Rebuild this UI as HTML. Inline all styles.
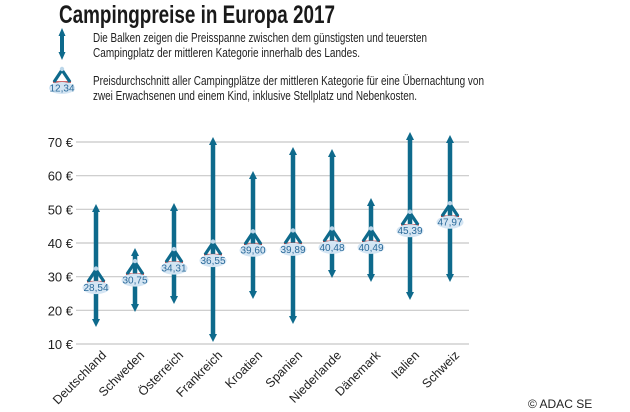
<!DOCTYPE html>
<html><head><meta charset="utf-8"><style>
body{margin:0;background:#fff;}
svg{display:block;font-family:"Liberation Sans",sans-serif;}
</style></head><body>
<svg width="630" height="412" viewBox="0 0 630 412" xmlns="http://www.w3.org/2000/svg">
<defs>
<g id="tent">
<line x1="-9" y1="0" x2="9" y2="0" stroke="#c0393b" stroke-width="1.5"/>
<path d="M-8,0 L0,-12 L8,0" fill="none" stroke="#0e6a8c" stroke-width="3.2"/>
<circle cx="0" cy="-13" r="2.2" fill="#bcd7ea"/>
</g>
</defs>
<text x="59" y="23" font-size="25" font-weight="bold" fill="#1a1a1a" textLength="276" lengthAdjust="spacingAndGlyphs">Campingpreise in Europa 2017</text>
<line x1="62" y1="34" x2="62" y2="54" stroke="#0e6a8c" stroke-width="4"/>
<path d="M58.5,36 L62,28 L65.5,36Z M58.5,52 L62,60 L65.5,52Z" fill="#0e6a8c"/>
<g transform="translate(62,82)"><use href="#tent"/></g>
<ellipse cx="62" cy="88" rx="13" ry="6" fill="#d4e5f3"/>
<text x="62" y="91.5" font-size="10" fill="#2a6a9a" text-anchor="middle">12,34</text>
<g font-size="13" fill="#222">
<text x="93" y="42" textLength="334" lengthAdjust="spacingAndGlyphs">Die Balken zeigen die Preisspanne zwischen dem günstigsten und teuersten</text>
<text x="93" y="57" textLength="267" lengthAdjust="spacingAndGlyphs">Campingplatz der mittleren Kategorie innerhalb des Landes.</text>
<text x="93" y="85" textLength="391" lengthAdjust="spacingAndGlyphs">Preisdurchschnitt aller Campingplätze der mittleren Kategorie für eine Übernachtung von</text>
<text x="93" y="100" textLength="324" lengthAdjust="spacingAndGlyphs">zwei Erwachsenen und einem Kind, inklusive Stellplatz und Nebenkosten.</text>
</g>
<g stroke="#c8c8c8" stroke-width="1.2">
<line x1="76" y1="142" x2="469" y2="142"/><line x1="76" y1="175.7" x2="469" y2="175.7"/>
<line x1="76" y1="209.3" x2="469" y2="209.3"/><line x1="76" y1="243" x2="469" y2="243"/>
<line x1="76" y1="276.7" x2="469" y2="276.7"/><line x1="76" y1="310.3" x2="469" y2="310.3"/>
<line x1="76" y1="344" x2="469" y2="344"/>
</g>
<g font-size="13" fill="#222" text-anchor="end">
<text x="73" y="147">70 €</text><text x="73" y="180.7">60 €</text><text x="73" y="214.3">50 €</text>
<text x="73" y="248">40 €</text><text x="73" y="281.7">30 €</text><text x="73" y="315.3">20 €</text><text x="73" y="349">10 €</text>
</g>
<g stroke="#0e6a8c" stroke-width="4.5">
<line x1="96" y1="210" x2="96" y2="321"/>
<line x1="135" y1="254" x2="135" y2="306"/>
<line x1="174" y1="208" x2="174" y2="298"/>
<line x1="213" y1="143" x2="213" y2="336"/>
<line x1="253" y1="176" x2="253" y2="293"/>
<line x1="293" y1="153" x2="293" y2="318"/>
<line x1="332" y1="154" x2="332" y2="272"/>
<line x1="371" y1="203" x2="371" y2="276"/>
<line x1="410" y1="138" x2="410" y2="294"/>
<line x1="450" y1="141" x2="450" y2="276"/>
</g>
<g fill="#0e6a8c">
<path d="M92,212 L96,204 L100,212Z M92,319 L96,327 L100,319Z"/>
<path d="M131,256 L135,248 L139,256Z M131,304 L135,312 L139,304Z"/>
<path d="M170,211 L174,203 L178,211Z M170,296 L174,304 L178,296Z"/>
<path d="M209,145 L213,137 L217,145Z M209,334 L213,342 L217,334Z"/>
<path d="M249,179 L253,171 L257,179Z M249,291 L253,299 L257,291Z"/>
<path d="M289,155 L293,147 L297,155Z M289,316 L293,324 L297,316Z"/>
<path d="M328,157 L332,149 L336,157Z M328,270 L332,278 L336,270Z"/>
<path d="M367,206 L371,198 L375,206Z M367,274 L371,282 L375,274Z"/>
<path d="M406,140 L410,132 L414,140Z M406,292 L410,300 L414,292Z"/>
<path d="M446,143 L450,135 L454,143Z M446,274 L450,282 L454,274Z"/>
</g>
<g>
<use href="#tent" transform="translate(96,281.6)"/>
<use href="#tent" transform="translate(135,274.1)"/>
<use href="#tent" transform="translate(174,262.1)"/>
<use href="#tent" transform="translate(213,254.6)"/>
<use href="#tent" transform="translate(253,244.3)"/>
<use href="#tent" transform="translate(293,243.4)"/>
<use href="#tent" transform="translate(332,241.4)"/>
<use href="#tent" transform="translate(371,241.4)"/>
<use href="#tent" transform="translate(410,224.8)"/>
<use href="#tent" transform="translate(450,216.2)"/>
</g>
<g fill="#d4e5f3">
<ellipse cx="96" cy="287.6" rx="13.5" ry="6.5"/>
<ellipse cx="135" cy="280.1" rx="13.5" ry="6.5"/>
<ellipse cx="174" cy="268.1" rx="13.5" ry="6.5"/>
<ellipse cx="213" cy="260.6" rx="13.5" ry="6.5"/>
<ellipse cx="253" cy="250.3" rx="13.5" ry="6.5"/>
<ellipse cx="293" cy="249.4" rx="13.5" ry="6.5"/>
<ellipse cx="332" cy="247.4" rx="13.5" ry="6.5"/>
<ellipse cx="371" cy="247.4" rx="13.5" ry="6.5"/>
<ellipse cx="410" cy="230.8" rx="13.5" ry="6.5"/>
<ellipse cx="450" cy="222.2" rx="13.5" ry="6.5"/>
</g>
<g font-size="10" fill="#2a6a9a" text-anchor="middle">
<text x="96" y="291">28,54</text>
<text x="135" y="283.5">30,75</text>
<text x="174" y="271.5">34,31</text>
<text x="213" y="264">36,55</text>
<text x="253" y="253.7">39,60</text>
<text x="293" y="252.8">39,89</text>
<text x="332" y="250.8">40,48</text>
<text x="371" y="250.8">40,49</text>
<text x="410" y="234.2">45,39</text>
<text x="450" y="225.6">47,97</text>
</g>
<g font-size="12.5" fill="#222" text-anchor="end">
<text transform="translate(107,356) rotate(-45)">Deutschland</text>
<text transform="translate(145,356) rotate(-45)">Schweden</text>
<text transform="translate(184,356) rotate(-45)">Österreich</text>
<text transform="translate(223,356) rotate(-45)">Frankreich</text>
<text transform="translate(263,356) rotate(-45)">Kroatien</text>
<text transform="translate(303,356) rotate(-45)">Spanien</text>
<text transform="translate(342,356) rotate(-45)">Niederlande</text>
<text transform="translate(381,356) rotate(-45)">Dänemark</text>
<text transform="translate(420,356) rotate(-45)">Italien</text>
<text transform="translate(460,356) rotate(-45)">Schweiz</text>
</g>
<text x="528" y="408" font-size="12" fill="#222">© ADAC SE</text>
</svg>
</body></html>
